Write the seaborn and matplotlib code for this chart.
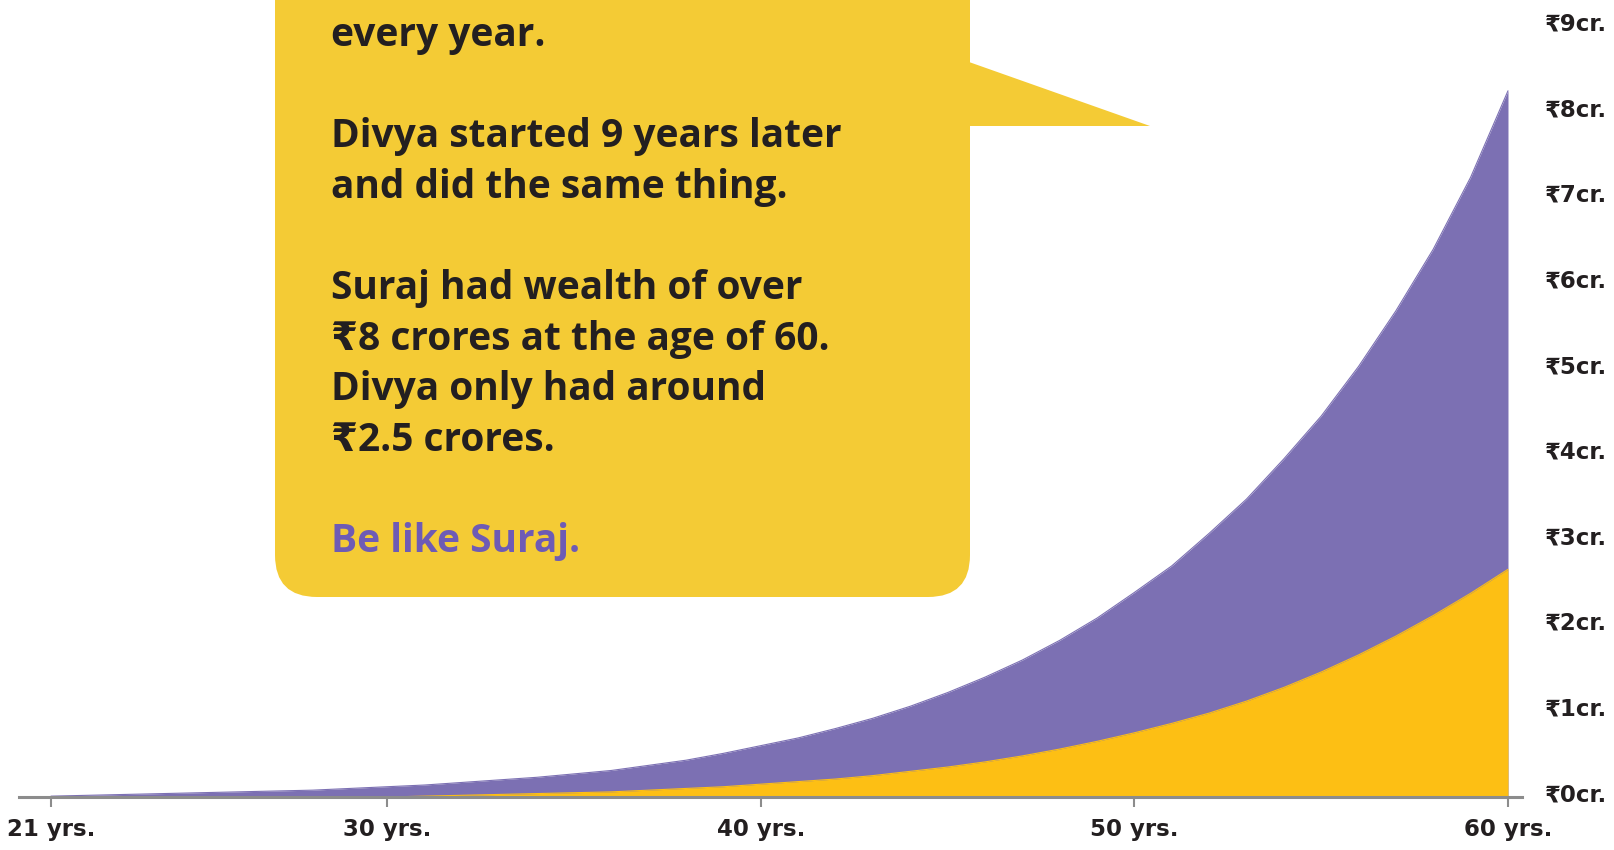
import numpy as np
import pandas as pd
import seaborn as sns
import matplotlib.pyplot as plt
from matplotlib.patches import FancyBboxPatch, Polygon
from matplotlib.transforms import ScaledTranslation

# wealth in crores
ages = list(range(21, 61))
suraj = [0.01, 0.02, 0.03, 0.04, 0.05, 0.06, 0.07, 0.08, 0.10, 0.12,
         0.14, 0.17, 0.20, 0.23, 0.27, 0.31, 0.37, 0.43, 0.51, 0.60,
         0.69, 0.80, 0.92, 1.06, 1.22, 1.40, 1.60, 1.83, 2.09, 2.39,
         2.70, 3.08, 3.48, 3.95, 4.45, 5.03, 5.68, 6.40, 7.24, 8.25]
divya_ages = list(range(30, 61))
divya = [0.00, 0.01, 0.02, 0.03, 0.04, 0.05, 0.06, 0.08, 0.10, 0.12,
         0.15, 0.18, 0.21, 0.25, 0.30, 0.35, 0.41, 0.48, 0.56, 0.65,
         0.75, 0.86, 0.98, 1.12, 1.28, 1.46, 1.66, 1.88, 2.12, 2.38, 2.66]

x_ticks = [21, 30, 40, 50, 60]
x_labels = ["21 yrs.", "30 yrs.", "40 yrs.", "50 yrs.", "60 yrs."]
y_ticks = list(range(10))
y_labels = [f"₹{v}cr." for v in y_ticks]

bubble_lines = ["every year.", "", "Divya started 9 years later", "and did the same thing.", "",
                "Suraj had wealth of over", "₹8 crores at the age of 60.",
                "Divya only had around", "₹2.5 crores.", ""]
bubble_punch = "Be like Suraj."

PURPLE = "#7C70B3"
YELLOW = "#FDBF14"
BUBBLE = "#F4CB35"
DARK = "#231F20"
AXIS_GREY = "#8C8C8C"

sns.set_theme(style="white")
plt.rcParams["font.family"] = ["DejaVu Sans"]

df_s = pd.DataFrame({"age": ages, "wealth": suraj})
df_d = pd.DataFrame({"age": divya_ages, "wealth": divya})

fig = plt.figure(figsize=(16.15, 8.5), dpi=100)
ax = fig.add_axes([18.5 / 1615, 53 / 850, (1522 - 18.5) / 1615, 797 / 850])

# Suraj behind, Divya in front
sns.lineplot(data=df_s, x="age", y="wealth", color=PURPLE, lw=0.8, ax=ax)
ax.fill_between(df_s["age"], 0, df_s["wealth"], color=PURPLE, lw=0)
sns.lineplot(data=df_d, x="age", y="wealth", color=YELLOW, lw=0.8, ax=ax)
ax.fill_between(df_d["age"], 0, df_d["wealth"], color=YELLOW, lw=0)

ax.set_xlim(20.13, 60.375)
ax.set_ylim(0, 797 / 85.6)
ax.set_xlabel("")
ax.set_ylabel("")

ax.set_xticks(x_ticks)
ax.set_xticklabels(x_labels, fontsize=16.5, fontweight="bold", color=DARK)
ax.tick_params(axis="x", bottom=True, length=7, width=1.5, color=AXIS_GREY, pad=8)

ax.yaxis.tick_right()
ax.set_yticks(y_ticks)
ax.set_yticklabels(y_labels, fontsize=16.5, fontweight="bold", color=DARK)
ax.tick_params(axis="y", length=0, pad=39)
lift = ScaledTranslation(0, 5 / 100, fig.dpi_scale_trans)
for lab in ax.get_yticklabels():
    lab.set_ha("center")
    lab.set_transform(lab.get_transform() + lift)

sns.despine(ax=ax, left=True, right=True, top=True)
ax.spines["bottom"].set_color(AXIS_GREY)
ax.spines["bottom"].set_linewidth(2.2)
ax.grid(False)

# speech bubble, drawn in pixel coordinates on an overlay
ov = fig.add_axes([0, 0, 1, 1], zorder=5)
ov.set_xlim(0, 1615)
ov.set_ylim(850, 0)
ov.axis("off")
ov.add_patch(FancyBboxPatch((275, -100), 695, 697, boxstyle="round,pad=0,rounding_size=42",
                            fc=BUBBLE, ec="none"))
ov.add_patch(Polygon([(969, 62), (1150, 126), (969, 126)], closed=True, fc=BUBBLE, ec="none"))

text_font = ["Open Sans", "DejaVu Sans"]
y0, step = 46, 50.6
for i, line in enumerate(bubble_lines):
    if line:
        ov.text(331, y0 + i * step, line, fontsize=28, fontweight="bold", color=DARK,
                family=text_font, va="baseline", ha="left")
ov.text(331, y0 + len(bubble_lines) * step, bubble_punch, fontsize=28, fontweight="bold",
        color="#6E5BB5", family=text_font, va="baseline", ha="left")

fig.savefig("out.png", dpi=100)
